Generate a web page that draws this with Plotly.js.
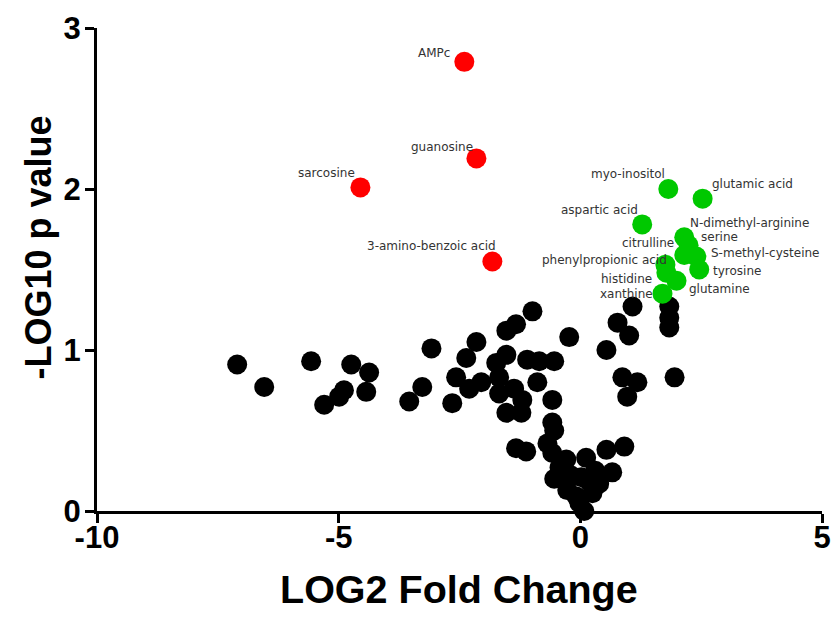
<!DOCTYPE html>
<html>
<head>
<meta charset="utf-8">
<script src="https://cdn.plot.ly/plotly-3.0.1.min.js"></script>
<style>html,body{margin:0;padding:0;background:#fff;}#chart{width:836px;height:621px;}</style>
</head>
<body>
<div id="chart"></div>
<script>
// Non-significant metabolites (black)
const blackX = [-7.10,-6.54,-5.57,-4.74,-4.37,-4.89,-4.99,-5.30,-4.43,-3.54,-3.27,-3.08,-2.65,-2.57,-2.36,-2.15,-2.30,-2.05,-1.74,-1.53,-1.68,-1.68,-1.37,-1.20,-1.53,-1.22,-1.53,-1.33,-0.99,-1.10,-0.85,-0.54,-0.89,-0.58,-0.23,-0.58,-0.54,-1.33,-1.12,-0.68,-0.58,-0.29,0.12,-0.54,-0.27,-0.02,0.02,0.25,0.54,0.91,0.66,0.39,0.54,1.08,0.77,1.01,0.87,1.18,0.97,1.84,1.84,1.84,1.95,-0.19,0.19,0.08,-0.08,0.31,-0.43];
const blackY = [0.91,0.77,0.93,0.91,0.86,0.75,0.71,0.66,0.74,0.68,0.77,1.01,0.67,0.83,0.95,1.05,0.76,0.80,0.92,0.97,0.83,0.73,0.76,0.69,0.61,0.61,1.12,1.16,1.24,0.94,0.93,0.93,0.80,0.69,1.08,0.55,0.50,0.39,0.37,0.42,0.36,0.32,0.33,0.20,0.13,0.05,0.21,0.11,0.38,0.40,0.24,0.17,1.00,1.27,1.17,1.09,0.83,0.80,0.71,1.27,1.20,1.14,0.83,0.22,0.18,0.00,0.09,0.25,0.27];

// Significantly down (red)
const redNames = ["AMPc","guanosine","sarcosine","3-amino-benzoic acid"];
const redX = [-2.40,-2.15,-4.55,-1.82];
const redY = [2.79,2.19,2.01,1.55];

// Significantly up (green)
const greenNames = ["myo-inositol","glutamic acid","aspartic acid","N-dimethyl-arginine","serine","citrulline","phenylpropionic acid","S-methyl-cysteine","tyrosine","histidine","glutamine","xanthine"];
const greenX = [1.82,2.53,1.28,2.15,2.24,2.15,1.76,2.40,2.46,1.78,1.99,1.70];
const greenY = [2.00,1.94,1.78,1.70,1.65,1.59,1.53,1.58,1.50,1.48,1.43,1.35];

// axis tick labels and titles
const xTicks = [-10, -5, 0, 5];
const yTicks = [0, 1, 2, 3];
const xTitle = "LOG2 Fold Change";
const yTitle = "-LOG10 p value";

// label placement (style): [xanchor, xshift px, yshift px]
const redLabelPlace = [["right",-12,9],["right",-1,11],["right",-3,14],["right",6,15]];
const greenLabelPlace = [["right",-1,15],["left",7,15],["right",-2,14],["left",4,14],["left",10,8],["right",-8,12],["right",4,5],["left",13,4],["left",12,-1],["right",-12,-6],["left",10,-8],["right",-8,0]];

const FONT = "Arial, 'Liberation Sans', sans-serif";
const LABELFONT = "'DejaVu Sans', Verdana, sans-serif";
const mk = (x, y, color) => ({
  x: x, y: y, type: "scatter", mode: "markers", cliponaxis: false, hoverinfo: "skip",
  marker: {size: 20, color: color, line: {width: 0}}
});

const annotations = [];
function addLabels(names, xs, ys, place) {
  names.forEach((n, i) => {
    annotations.push({
      x: xs[i], y: ys[i], xref: "x", yref: "y", text: n, showarrow: false,
      xanchor: place[i][0], yanchor: "middle", xshift: place[i][1], yshift: place[i][2],
      font: {family: LABELFONT, size: 12, color: "#333"}
    });
  });
}
addLabels(redNames, redX, redY, redLabelPlace);
addLabels(greenNames, greenX, greenY, greenLabelPlace);

// axis titles as annotations (positioned like the reference)
annotations.push({
  xref: "paper", yref: "paper", x: 0.5, y: 0, yanchor: "middle", yshift: -78, xshift: -1,
  text: xTitle, showarrow: false,
  font: {family: FONT, size: 39.5, color: "#000", weight: "bold"}
});
annotations.push({
  xref: "paper", yref: "paper", x: 0, y: 0.5, xanchor: "center", yanchor: "middle",
  xshift: -59, yshift: 22, textangle: -90,
  text: yTitle, showarrow: false,
  font: {family: FONT, size: 36, color: "#000", weight: "bold"}
});

const axisCommon = {
  showgrid: false, zeroline: false, showline: true, linewidth: 3, linecolor: "#000",
  ticks: "outside", ticklen: 9, tickwidth: 3, tickcolor: "#000",
  tickfont: {family: FONT, size: 31, color: "#000", weight: "bold"}
};

const layout = {
  width: 836, height: 621,
  margin: {l: 97, r: 14, t: 28, b: 110},
  paper_bgcolor: "#fff", plot_bgcolor: "#fff",
  showlegend: false,
  xaxis: Object.assign({}, axisCommon, {
    range: [-10, 5], tickvals: xTicks, ticktext: xTicks.map(String), ticklabelstandoff: -12
  }),
  yaxis: Object.assign({}, axisCommon, {
    range: [0, 3], tickvals: yTicks, ticklabelstandoff: -2
  }),
  annotations: annotations
};

Plotly.newPlot("chart", [mk(blackX, blackY, "#000"), mk(redX, redY, "#ff0000"), mk(greenX, greenY, "#00c800")], layout, {displayModeBar: false, staticPlot: true});
</script>
</body>
</html>
